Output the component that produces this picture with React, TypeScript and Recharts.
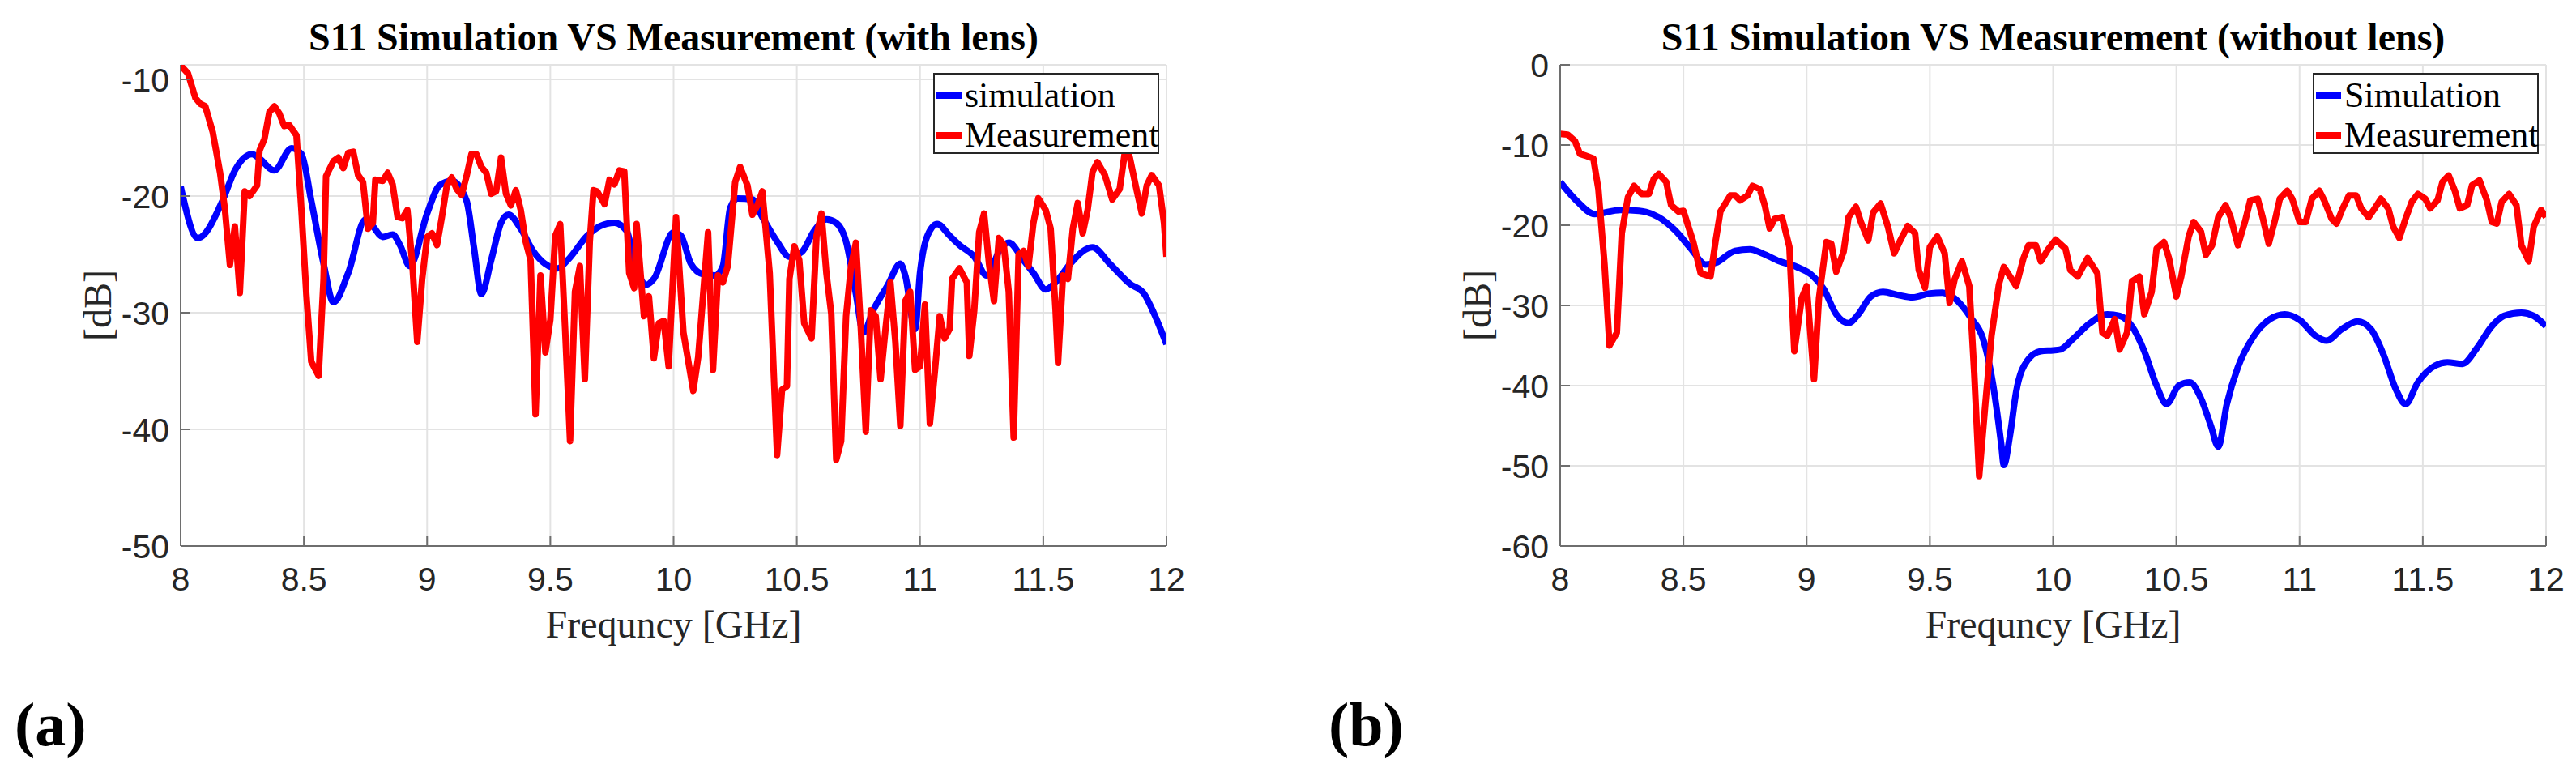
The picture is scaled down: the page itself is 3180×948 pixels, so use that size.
import { CartesianGrid, Legend, Line, LineChart, XAxis, YAxis } from 'recharts';

// ---- data ----
const freqTicks = [8, 8.5, 9, 9.5, 10, 10.5, 11, 11.5, 12];
const withLensDbTicks = [-50, -40, -30, -20, -10];
const noLensDbTicks = [-60, -50, -40, -30, -20, -10, 0];

const withLensSimFreq = [
  8.0, 8.07, 8.17, 8.22, 8.29, 8.32, 8.38, 8.45, 8.49, 8.53, 8.58, 8.62, 8.68, 8.75, 8.78, 8.82, 8.86, 8.89, 8.93,
  9.0, 9.05, 9.1, 9.16, 9.19, 9.22, 9.26, 9.3, 9.33, 9.38, 9.43, 9.53, 9.57, 9.65, 9.7, 9.76, 9.81, 9.84, 9.89, 9.92,
  10.0, 10.03, 10.07, 10.12, 10.17, 10.2, 10.23, 10.26, 10.32, 10.36, 10.42, 10.47, 10.52, 10.57, 10.62, 10.66, 10.7,
  10.74, 10.77, 10.81, 10.87, 10.92, 10.94, 10.98, 11.0, 11.03, 11.07, 11.12, 11.16, 11.22, 11.27, 11.33, 11.36,
  11.42, 11.46, 11.51, 11.55, 11.61, 11.67, 11.7, 11.77, 11.85, 11.91, 11.95, 12.0,
];
const withLensSimDb = [
  -19.2, -23.6, -20.4, -17.8, -16.4, -16.8, -17.8, -15.9, -16.4, -20.4, -25.8, -29.1, -26.6, -22.0, -22.6, -23.5,
  -23.3, -24.2, -26.0, -21.5, -19.1, -18.7, -20.4, -24.4, -28.4, -25.5, -22.3, -21.6, -22.8, -24.7, -26.2, -25.5,
  -23.4, -22.6, -22.3, -23.0, -25.5, -27.6, -27.1, -23.1, -23.4, -25.8, -26.7, -26.8, -26.0, -21.0, -20.2, -20.3,
  -21.8, -23.9, -25.2, -24.8, -23.0, -22.0, -22.3, -23.9, -28.4, -31.7, -29.8, -27.6, -25.8, -26.8, -31.4, -26.6,
  -23.4, -22.4, -23.4, -24.2, -25.2, -26.8, -24.4, -24.0, -25.5, -26.6, -28.0, -27.4, -25.8, -24.6, -24.4, -25.8,
  -27.5, -28.4, -30.1, -32.7,
];

const withLensMeasFreq = [
  8.0, 8.03, 8.06, 8.08, 8.1, 8.13, 8.16, 8.18, 8.2, 8.22, 8.24, 8.26, 8.28, 8.31, 8.32, 8.34, 8.36, 8.38, 8.4, 8.42,
  8.44, 8.47, 8.49, 8.51, 8.53, 8.56, 8.58, 8.59, 8.62, 8.64, 8.66, 8.68, 8.7, 8.72, 8.74, 8.76, 8.78, 8.79, 8.82,
  8.84, 8.86, 8.88, 8.9, 8.92, 8.94, 8.96, 8.98, 9.0, 9.02, 9.04, 9.06, 9.08, 9.1, 9.12, 9.14, 9.16, 9.18, 9.2, 9.22,
  9.24, 9.26, 9.28, 9.3, 9.32, 9.34, 9.36, 9.38, 9.4, 9.42, 9.44, 9.46, 9.48, 9.5, 9.52, 9.54, 9.56, 9.58, 9.6, 9.62,
  9.64, 9.66, 9.675, 9.69, 9.72, 9.74, 9.76, 9.78, 9.8, 9.82, 9.84, 9.85, 9.88, 9.9, 9.92, 9.94, 9.96, 9.98, 10.01,
  10.04, 10.08, 10.1, 10.14, 10.16, 10.18, 10.2, 10.22, 10.25, 10.27, 10.3, 10.32, 10.34, 10.36, 10.39, 10.42, 10.44,
  10.46, 10.47, 10.49, 10.51, 10.53, 10.56, 10.58, 10.6, 10.62, 10.64, 10.66, 10.68, 10.7, 10.72, 10.74, 10.76,
  10.78, 10.8, 10.82, 10.84, 10.86, 10.88, 10.9, 10.92, 10.94, 10.96, 10.98, 11.0, 11.02, 11.04, 11.06, 11.08, 11.1,
  11.12, 11.13, 11.16, 11.19, 11.2, 11.22, 11.24, 11.26, 11.28, 11.3, 11.32, 11.34, 11.36, 11.38, 11.4, 11.42, 11.44,
  11.46, 11.48, 11.51, 11.53, 11.55, 11.56, 11.58, 11.6, 11.62, 11.64, 11.66, 11.68, 11.7, 11.72, 11.75, 11.78,
  11.81, 11.83, 11.85, 11.88, 11.9, 11.92, 11.94, 11.97, 11.99, 12.0,
];
const withLensMeasDb = [
  -8.8, -9.5, -11.6, -12.1, -12.3, -14.5, -18.0, -21.2, -25.9, -22.6, -28.3, -19.6, -20.0, -19.1, -16.1, -15.1,
  -12.8, -12.3, -12.9, -14.0, -13.9, -14.8, -21.2, -28.4, -34.2, -35.4, -27.1, -18.3, -17.0, -16.7, -17.6, -16.3,
  -16.2, -18.2, -18.8, -22.8, -22.3, -18.6, -18.7, -18.0, -19.0, -21.8, -21.9, -21.2, -25.8, -32.5, -27.1, -23.5,
  -23.2, -24.2, -21.8, -19.1, -18.4, -19.4, -19.9, -18.3, -16.4, -16.4, -17.5, -18.0, -19.8, -19.6, -16.7, -19.8,
  -20.8, -19.5, -21.2, -23.9, -25.5, -38.7, -26.8, -33.4, -30.6, -23.4, -22.4, -31.4, -41.0, -28.2, -26.0, -35.7,
  -23.9, -19.5, -19.6, -20.7, -18.6, -19.0, -17.8, -17.9, -26.6, -27.9, -22.4, -30.3, -28.6, -33.9, -30.9, -30.7,
  -34.6, -21.8, -31.7, -36.7, -33.8, -23.1, -34.9, -26.8, -27.4, -26.0, -18.8, -17.5, -19.1, -21.6, -20.8, -19.6,
  -26.6, -42.2, -36.6, -36.3, -27.1, -24.3, -25.5, -30.9, -32.2, -23.4, -21.5, -26.6, -30.1, -42.6, -41.0, -30.3,
  -26.0, -24.0, -31.4, -40.2, -29.8, -30.3, -35.7, -31.4, -27.4, -32.5, -39.7, -29.0, -28.2, -34.9, -34.6, -29.3,
  -39.5, -35.1, -30.3, -32.2, -31.4, -27.1, -26.2, -27.4, -33.7, -29.8, -23.1, -21.5, -25.8, -29.0, -23.6, -24.2,
  -28.2, -40.7, -25.0, -24.7, -26.0, -22.3, -20.2, -21.2, -22.8, -29.8, -34.3, -26.8, -27.1, -22.8, -20.6, -23.2,
  -21.2, -17.9, -17.1, -18.2, -20.3, -19.4, -16.4, -16.6, -19.6, -21.5, -19.1, -18.2, -19.1, -22.3, -25.2,
];

const noLensSimFreq = [
  8.0, 8.065, 8.14, 8.245, 8.32, 8.4, 8.465, 8.53, 8.59, 8.63, 8.71, 8.77, 8.82, 8.89, 8.96, 9.02, 9.07, 9.12, 9.17,
  9.21, 9.26, 9.31, 9.37, 9.43, 9.5, 9.55, 9.6, 9.665, 9.72, 9.755, 9.79, 9.8, 9.825, 9.85, 9.895, 9.95, 10.0, 10.03,
  10.08, 10.15, 10.22, 10.27, 10.32, 10.37, 10.42, 10.46, 10.51, 10.555, 10.6, 10.64, 10.67, 10.705, 10.75, 10.815,
  10.88, 10.94, 11.0, 11.065, 11.11, 11.17, 11.235, 11.29, 11.34, 11.39, 11.43, 11.48, 11.55, 11.6, 11.66, 11.72,
  11.78, 11.83, 11.9, 11.95, 12.0,
];
const noLensSimDb = [
  -14.6, -16.9, -18.6, -18.1, -18.2, -19.0, -20.6, -22.9, -24.9, -24.7, -23.2, -23.0, -23.5, -24.5, -25.2, -26.2,
  -28.0, -31.1, -32.2, -31.1, -28.9, -28.3, -28.7, -29.0, -28.5, -28.4, -29.1, -31.5, -34.6, -39.6, -47.4, -49.9,
  -46.2, -40.8, -36.9, -35.7, -35.6, -35.5, -34.2, -32.2, -31.1, -31.3, -32.6, -35.7, -40.0, -42.3, -40.0, -39.6,
  -41.6, -45.0, -47.6, -42.3, -37.7, -33.8, -31.7, -31.1, -31.8, -33.8, -34.4, -33.0, -32.0, -33.0, -36.1, -40.4,
  -42.3, -39.6, -37.5, -37.1, -37.3, -35.3, -32.6, -31.3, -30.9, -31.3, -32.6,
];

const noLensMeasFreq = [
  8.0, 8.03, 8.06, 8.08, 8.1, 8.135, 8.155, 8.18, 8.2, 8.23, 8.25, 8.275, 8.3, 8.33, 8.36, 8.38, 8.4, 8.43, 8.45,
  8.48, 8.5, 8.54, 8.57, 8.61, 8.63, 8.65, 8.69, 8.71, 8.73, 8.76, 8.78, 8.81, 8.83, 8.85, 8.87, 8.9, 8.93, 8.95,
  8.98, 9.0, 9.03, 9.05, 9.08, 9.1, 9.12, 9.15, 9.17, 9.2, 9.22, 9.25, 9.27, 9.3, 9.33, 9.355, 9.38, 9.41, 9.44,
  9.455, 9.48, 9.5, 9.53, 9.56, 9.58, 9.6, 9.63, 9.66, 9.68, 9.7, 9.725, 9.75, 9.78, 9.8, 9.83, 9.85, 9.88, 9.9,
  9.93, 9.95, 9.98, 10.01, 10.05, 10.07, 10.1, 10.14, 10.18, 10.2, 10.22, 10.25, 10.27, 10.3, 10.32, 10.35, 10.37,
  10.4, 10.42, 10.45, 10.47, 10.5, 10.52, 10.55, 10.57, 10.6, 10.62, 10.645, 10.67, 10.7, 10.72, 10.75, 10.78, 10.8,
  10.83, 10.85, 10.875, 10.9, 10.92, 10.95, 10.97, 11.0, 11.025, 11.05, 11.08, 11.1, 11.13, 11.15, 11.175, 11.2,
  11.23, 11.25, 11.28, 11.305, 11.33, 11.36, 11.38, 11.405, 11.43, 11.455, 11.48, 11.51, 11.53, 11.56, 11.58,
  11.605, 11.63, 11.65, 11.68, 11.7, 11.73, 11.76, 11.78, 11.8, 11.82, 11.85, 11.88, 11.9, 11.93, 11.95, 11.98, 12.0,
];
const noLensMeasDb = [
  -8.6, -8.7, -9.5, -11.1, -11.3, -11.7, -15.5, -24.9, -35.0, -33.4, -21.0, -16.5, -15.1, -16.1, -16.1, -14.2,
  -13.6, -14.6, -17.5, -18.3, -18.2, -22.1, -26.0, -26.4, -22.1, -18.3, -16.3, -16.3, -16.9, -16.3, -15.1, -15.5,
  -17.5, -20.4, -19.2, -19.0, -22.7, -35.7, -29.1, -27.6, -39.2, -29.1, -22.1, -22.3, -25.8, -23.3, -19.0, -17.7,
  -19.6, -21.9, -18.4, -17.3, -20.2, -23.5, -21.9, -20.1, -21.0, -25.6, -27.8, -22.7, -21.4, -23.5, -29.7, -26.8,
  -24.5, -27.6, -38.4, -51.3, -42.3, -33.8, -27.4, -25.2, -26.6, -27.6, -24.1, -22.5, -22.5, -24.5, -23.0, -21.8,
  -22.9, -25.6, -26.4, -24.1, -26.0, -33.4, -33.8, -31.7, -35.5, -33.4, -27.0, -26.4, -31.1, -28.3, -22.9, -22.1,
  -24.1, -28.9, -26.4, -21.4, -19.6, -20.8, -23.7, -22.5, -19.0, -17.5, -19.0, -22.5, -19.4, -16.9, -16.7, -19.0,
  -22.3, -19.4, -16.7, -15.7, -16.7, -19.6, -19.6, -16.7, -15.7, -16.9, -19.2, -19.8, -17.9, -16.3, -16.3, -17.9,
  -19.0, -17.9, -16.7, -17.9, -20.2, -21.6, -19.2, -17.1, -16.1, -16.7, -17.9, -16.9, -14.6, -13.8, -15.7, -17.9,
  -17.5, -15.0, -14.4, -16.9, -19.6, -19.8, -17.1, -16.1, -17.5, -22.5, -24.5, -20.2, -18.1, -19.0,
];

// ---- layout (px) ----
const CHART_W = 1477;
const CHART_H = 948;
const PLOT_L = 223;
const PLOT_T = 80;
const PLOT_W = 1217;
const PLOT_B = 674;
const Y_AXIS_W = 120;
const X_AXIS_H = 120;
const RIGHT_OFFSET = 1703;

const TEXT_DARK = '#262626';
const AXIS_GRAY = '#6e6e6e';
const SERIF = '"Liberation Serif", "Times New Roman", serif';
const SANS = '"Liberation Sans", Arial, sans-serif';

const zip = (f: number[], db: number[]) => f.map((x, i) => ({ f: x, db: db[i] }));

function XTick({ x, y, payload }: any) {
  return (
    <g>
      <line x1={x} x2={x} y1={PLOT_B} y2={PLOT_B - 12} stroke={AXIS_GRAY} strokeWidth={2} />
      <text x={x} y={y} dy="0.71em" textAnchor="middle" style={{ fontFamily: SANS, fontSize: 41 }} fill={TEXT_DARK}>
        {payload.value}
      </text>
    </g>
  );
}

function YTick({ x, y, payload }: any) {
  return (
    <g>
      <line x1={PLOT_L} x2={PLOT_L + 12} y1={y} y2={y} stroke={AXIS_GRAY} strokeWidth={2} />
      <text x={x} y={y} dy="0.355em" textAnchor="end" style={{ fontFamily: SANS, fontSize: 41 }} fill={TEXT_DARK}>
        {payload.value}
      </text>
    </g>
  );
}

function LegendBox({ payload }: any) {
  const items = [...(payload ?? [])].sort(
    (a: any, b: any) => (a.value === 'Measurement' ? 1 : 0) - (b.value === 'Measurement' ? 1 : 0),
  );
  return (
    <div
      style={{
        width: 279,
        height: 100,
        boxSizing: 'border-box',
        border: `2px solid ${TEXT_DARK}`,
        background: '#fff',
        paddingTop: 1,
      }}
    >
      {items.map((p: any) => (
        <div key={p.value} style={{ display: 'flex', alignItems: 'center', height: 49 }}>
          <span style={{ width: 31, height: 8, background: p.color, marginLeft: 2, marginRight: 4, flex: 'none' }} />
          <span style={{ fontFamily: SERIF, fontSize: 44, lineHeight: '49px', color: '#000', whiteSpace: 'nowrap' }}>
            {p.value}
          </span>
        </div>
      ))}
    </div>
  );
}

interface PanelProps {
  left: number;
  simName: string;
  sim: { f: number; db: number }[];
  meas: { f: number; db: number }[];
  yDomain: [number, number];
  yTicks: number[];
}

function Panel({ left, simName, sim, meas, yDomain, yTicks }: PanelProps) {
  return (
    <div style={{ position: 'absolute', left, top: 0 }}>
      <LineChart
        width={CHART_W}
        height={CHART_H}
        margin={{
          top: PLOT_T,
          left: PLOT_L - Y_AXIS_W,
          right: CHART_W - PLOT_L - PLOT_W,
          bottom: CHART_H - PLOT_B - X_AXIS_H,
        }}
      >
        <CartesianGrid stroke="#e3e3e3" strokeWidth={2} />
        <XAxis
          type="number"
          dataKey="f"
          domain={[8, 12]}
          ticks={freqTicks}
          height={X_AXIS_H}
          tickSize={0}
          tickMargin={26}
          tick={<XTick />}
          axisLine={{ stroke: AXIS_GRAY, strokeWidth: 2 }}
          tickLine={false}
          allowDataOverflow
        />
        <YAxis
          type="number"
          domain={yDomain}
          ticks={yTicks}
          width={Y_AXIS_W}
          tickSize={0}
          tickMargin={14}
          tick={<YTick />}
          axisLine={{ stroke: AXIS_GRAY, strokeWidth: 2 }}
          tickLine={false}
          allowDataOverflow
        />
        <Legend
          layout="vertical"
          align="center"
          verticalAlign="middle"
          content={<LegendBox />}
          wrapperStyle={{ left: 1152, top: 90, width: 279, height: 100 }}
        />
        <Line
          data={sim}
          dataKey="db"
          name={simName}
          type="monotone"
          stroke="#0000ff"
          strokeWidth={8}
          strokeLinejoin="round"
          dot={false}
          activeDot={false}
          isAnimationActive={false}
        />
        <Line
          data={meas}
          dataKey="db"
          name="Measurement"
          type="linear"
          stroke="#ff0000"
          strokeWidth={8}
          strokeLinejoin="round"
          dot={false}
          activeDot={false}
          isAnimationActive={false}
        />
      </LineChart>
    </div>
  );
}

function PanelText({ dx, title }: { dx: number; title: string }) {
  const mid = dx + PLOT_L + PLOT_W / 2;
  const lx = dx + PLOT_L - 86;
  const ly = (PLOT_T + PLOT_B) / 2;
  return (
    <g>
      <text x={mid} y={62} textAnchor="middle" fill="#000" style={{ fontFamily: SERIF, fontWeight: 'bold', fontSize: 48 }}>
        {title}
      </text>
      <text x={mid} y={787} textAnchor="middle" fill={TEXT_DARK} style={{ fontFamily: SERIF, fontSize: 48 }}>
        Frequncy [GHz]
      </text>
      <text
        x={lx}
        y={ly}
        textAnchor="middle"
        fill={TEXT_DARK}
        style={{ fontFamily: SERIF, fontSize: 48 }}
        transform={`rotate(-90, ${lx}, ${ly})`}
      >
        [dB]
      </text>
    </g>
  );
}

export default function App() {
  return (
    <div style={{ position: 'absolute', left: 0, top: 0, width: 3180, height: 948, background: '#fff', overflow: 'hidden' }}>
      <Panel
        left={0}
        simName="simulation"
        sim={zip(withLensSimFreq, withLensSimDb)}
        meas={zip(withLensMeasFreq, withLensMeasDb)}
        yDomain={[-50, -8.75]}
        yTicks={withLensDbTicks}
      />
      <Panel
        left={RIGHT_OFFSET}
        simName="Simulation"
        sim={zip(noLensSimFreq, noLensSimDb)}
        meas={zip(noLensMeasFreq, noLensMeasDb)}
        yDomain={[-60, 0]}
        yTicks={noLensDbTicks}
      />
      <svg width={3180} height={948} style={{ position: 'absolute', left: 0, top: 0, pointerEvents: 'none' }}>
        <PanelText dx={0} title="S11 Simulation VS Measurement (with lens)" />
        <PanelText dx={RIGHT_OFFSET} title="S11 Simulation VS Measurement (without lens)" />
        <g fill="#000" style={{ fontFamily: SERIF, fontWeight: 'bold', fontSize: 76 }}>
          <text x={18} y={920}>(a)</text>
          <text x={1640} y={920}>(b)</text>
        </g>
      </svg>
    </div>
  );
}
